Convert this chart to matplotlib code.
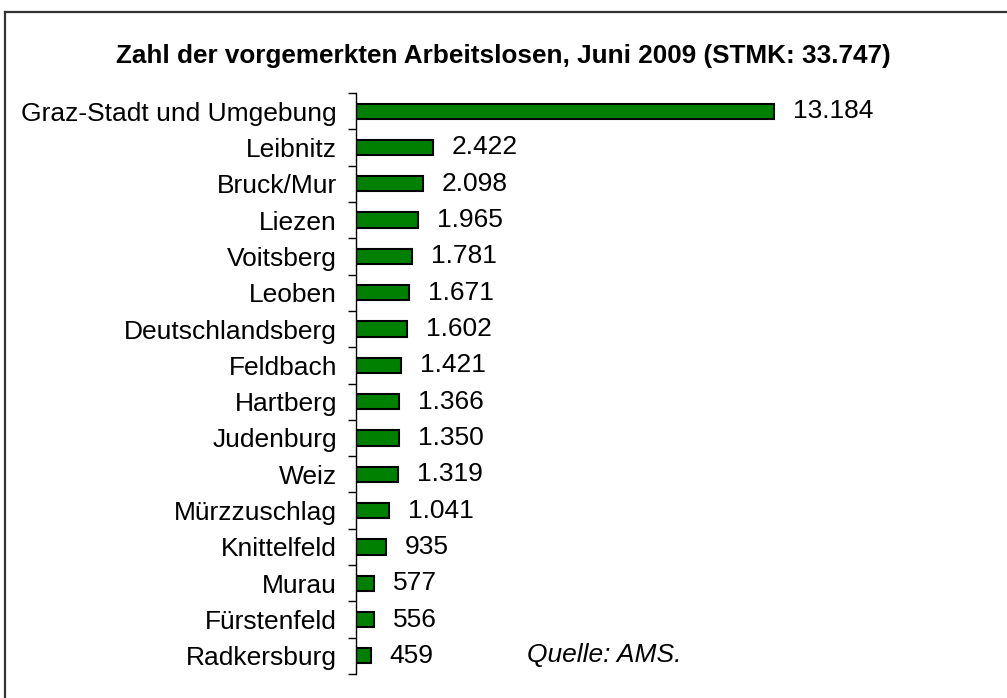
import matplotlib
matplotlib.use("Agg")
import matplotlib.pyplot as plt
from matplotlib.lines import Line2D

plt.rcParams['font.family'] = ['Liberation Sans', 'DejaVu Sans']

regions = ["Graz-Stadt und Umgebung", "Leibnitz", "Bruck/Mur", "Liezen", "Voitsberg",
           "Leoben", "Deutschlandsberg", "Feldbach", "Hartberg", "Judenburg", "Weiz",
           "Mürzzuschlag", "Knittelfeld", "Murau", "Fürstenfeld", "Radkersburg"]
values = [13184, 2422, 2098, 1965, 1781, 1671, 1602, 1421, 1366, 1350, 1319,
          1041, 935, 577, 556, 459]
value_labels = ["13.184", "2.422", "2.098", "1.965", "1.781", "1.671", "1.602", "1.421",
                "1.366", "1.350", "1.319", "1.041", "935", "577", "556", "459"]

W, H = 1007, 698
fig = plt.figure(figsize=(W/100, H/100), dpi=100)
# outer frame (only top and left edges visible)
fig.lines.append(Line2D([4.5/W, 4.5/W], [0, 1-12/H], transform=fig.transFigure,
                        color='#333333', linewidth=1.6))
fig.lines.append(Line2D([4.5/W, 1], [1-12/H, 1-12/H], transform=fig.transFigure,
                        color='#333333', linewidth=1.6))

ax_left, ax_right, ax_top, ax_bot = 356, 950, 93, 674
ax = fig.add_axes([ax_left/W, 1-ax_bot/H, (ax_right-ax_left)/W, (ax_bot-ax_top)/H])
scale = 418/13184
ax.set_xlim(0, (ax_right-ax_left)/scale)
n = len(values)
ax.set_ylim(n-0.5, -0.5)
ys = list(range(n))
ax.barh(ys, values, height=0.42, color='#008000', edgecolor='black', linewidth=1.5)
off = 19/scale
for y, v, lab in zip(ys, values, value_labels):
    ax.text(v + off, y, lab, va='center', ha='left', fontsize=19)

for s in ['top', 'right', 'bottom']:
    ax.spines[s].set_visible(False)
ax.spines['left'].set_linewidth(1)
ax.set_xticks([])
ax.set_yticks(ys)
ax.set_yticklabels(regions, fontsize=19)
ax.tick_params(axis='y', which='major', length=0, pad=13.7)
ax.set_yticks([i-0.5 for i in range(n+1)], minor=True)
ax.tick_params(axis='y', which='minor', length=5.5, width=1, direction='out')

fig.text(503/W, 1-56/H, "Zahl der vorgemerkten Arbeitslosen, Juni 2009 (STMK: 33.747)",
         ha='center', va='center', fontsize=18.8, fontweight='bold')
fig.text(527/W, 1-655/H, "Quelle: AMS.", ha='left', va='center', fontsize=19, style='italic')

fig.savefig("out.png", dpi=100)
